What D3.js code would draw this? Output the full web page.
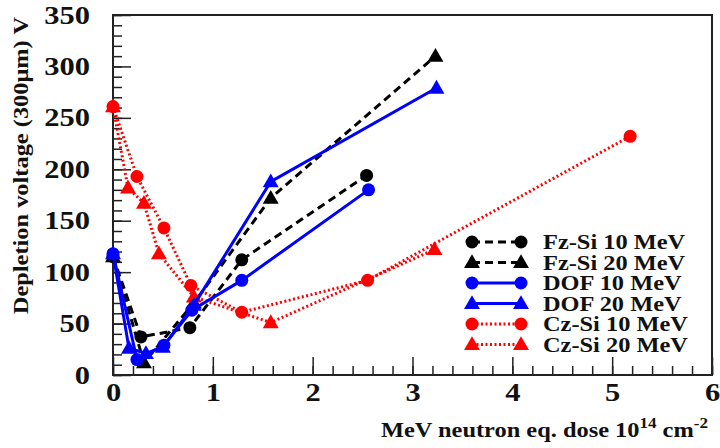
<!DOCTYPE html>
<html>
<head>
<meta charset="utf-8">
<script src="https://cdn.jsdelivr.net/npm/d3@7"></script>
<style>
  body { margin: 0; background: #fff; }
  svg text { font-family: "Liberation Serif", "DejaVu Serif", serif; font-weight: bold; fill: #111; }
</style>
</head>
<body>
<div id="chart"></div>
<script>
// Series data: [dose (1e14 cm^-2), depletion voltage (V)]
const fzSi10 = [[0, 115], [0.28, 37], [0.77, 46], [1.29, 112], [2.54, 194]];
const fzSi20 = [[0, 115], [0.31, 12], [0.81, 70], [1.58, 172], [3.23, 310]];
const dof10  = [[0, 118], [0.24, 15], [0.51, 29], [0.79, 63], [1.29, 92], [2.56, 180]];
const dof20  = [[0, 118], [0.16, 26], [0.33, 21], [0.50, 27], [0.81, 68], [1.58, 188], [3.24, 279]];
const czSi10 = [[0, 261], [0.24, 193], [0.51, 143], [0.78, 87], [1.29, 61], [2.55, 92], [5.18, 232]];
const czSi20 = [[0, 261], [0.15, 182], [0.31, 167], [0.46, 118], [0.81, 76], [1.58, 51], [3.22, 122]];

const seriesNames = ['Fz-Si 10 MeV', 'Fz-Si 20 MeV', 'DOF 10 MeV', 'DOF 20 MeV', 'Cz-Si 10 MeV', 'Cz-Si 20 MeV'];
const xTicks = [0, 1, 2, 3, 4, 5, 6];
const yTicks = [0, 50, 100, 150, 200, 250, 300, 350];

const series = [
  { name: seriesNames[0], data: fzSi10, color: '#000', dash: '8,5', marker: 'circle' },
  { name: seriesNames[1], data: fzSi20, color: '#000', dash: '8,5', marker: 'triangle' },
  { name: seriesNames[4], data: czSi10, color: '#ff0000', dash: '2,2.5', marker: 'circle' },
  { name: seriesNames[5], data: czSi20, color: '#ff0000', dash: '2,2.5', marker: 'triangle' },
  { name: seriesNames[2], data: dof10, color: '#0000ff', dash: null, marker: 'circle' },
  { name: seriesNames[3], data: dof20, color: '#0000ff', dash: null, marker: 'triangle' }
];

const W = 720, H = 448;
const m = { left: 113, top: 15, right: 8, bottom: 73 };
const iw = W - m.left - m.right, ih = H - m.top - m.bottom;
const sx = 1.22; // the reference type is set wide

const svg = d3.select('#chart').append('svg')
    .attr('width', W)
    .attr('height', H);

const x = d3.scaleLinear().domain([0, 6]).range([0, iw]);
const y = d3.scaleLinear().domain([0, 350]).range([ih, 0]);

const g = svg.append('g').attr('transform', `translate(${m.left},${m.top})`);

// minor ticks
g.append('g')
    .attr('transform', `translate(0,${ih})`)
    .call(d3.axisBottom(x).tickValues(d3.range(0, 6.01, 0.2)).tickSizeInner(-9).tickSizeOuter(0).tickFormat(''))
    .call(a => a.select('.domain').remove());
g.append('g')
    .call(d3.axisLeft(y).tickValues(d3.range(0, 351, 10)).tickSizeInner(-9).tickSizeOuter(0).tickFormat(''))
    .call(a => a.select('.domain').remove());

// major ticks with labels
const xAxis = g.append('g')
    .attr('transform', `translate(0,${ih})`)
    .call(d3.axisBottom(x).tickValues(xTicks).tickSizeInner(-18).tickSizeOuter(0).tickPadding(8).tickFormat(d3.format('d')));
xAxis.select('.domain').remove();
xAxis.selectAll('.tick text').attr('transform', `scale(${sx},1)`);

const yAxis = g.append('g')
    .call(d3.axisLeft(y).tickValues(yTicks).tickSizeInner(-18).tickSizeOuter(0).tickPadding(23).tickFormat(d3.format('d')));
yAxis.select('.domain').remove();
yAxis.selectAll('.tick text').attr('x', 0).attr('transform', `translate(-23,0) scale(${sx},1)`);

svg.selectAll('.tick line').attr('stroke', '#222').attr('stroke-width', 1.5);
svg.selectAll('.tick text')
    .attr('font-size', 25)
    .attr('font-family', '"Liberation Serif", serif')
    .attr('font-weight', 'bold')
    .attr('fill', '#111');

// frame
g.append('rect')
    .attr('width', iw)
    .attr('height', ih)
    .attr('fill', 'none')
    .attr('stroke', '#222')
    .attr('stroke-width', 2);

const line = d3.line().x(d => x(d[0])).y(d => y(d[1]));
const tri = d3.symbol().type(d3.symbolTriangle).size(110);

function drawMarker(sel, marker, color, px, py) {
  if (marker === 'circle') {
    sel.append('circle').attr('cx', px).attr('cy', py).attr('r', 6.5).attr('fill', color);
  } else {
    sel.append('path').attr('d', tri).attr('transform', `translate(${px},${py + 1})`).attr('fill', color);
  }
}

series.forEach(s => {
  const sg = g.append('g');
  sg.append('path')
      .datum(s.data)
      .attr('d', line)
      .attr('fill', 'none')
      .attr('stroke', s.color)
      .attr('stroke-width', 3)
      .attr('stroke-dasharray', s.dash);
  s.data.forEach(d => drawMarker(sg, s.marker, s.color, x(d[0]), y(d[1])));
});

// legend
const legendOrder = [0, 1, 4, 5, 2, 3];
const lg = svg.append('g');
legendOrder.forEach((si, i) => {
  const s = series[si];
  const cy = 242 + i * 20.5;
  lg.append('line')
      .attr('x1', 472).attr('x2', 521)
      .attr('y1', cy).attr('y2', cy)
      .attr('stroke', s.color)
      .attr('stroke-width', 3)
      .attr('stroke-dasharray', s.dash);
  drawMarker(lg, s.marker, s.color, 472, cy);
  drawMarker(lg, s.marker, s.color, 521, cy);
  lg.append('text')
      .attr('transform', `translate(543,${cy + 7}) scale(${sx},1)`)
      .attr('font-size', 20)
      .text(s.name);
});

// axis titles
const xt = svg.append('text')
    .attr('transform', `translate(708,437) scale(${sx},1)`)
    .attr('text-anchor', 'end')
    .attr('font-size', 20);
xt.append('tspan').text('MeV neutron eq. dose  10');
xt.append('tspan').attr('dy', -9).attr('font-size', 14).text('14');
xt.append('tspan').attr('dy', 9).text(' cm');
xt.append('tspan').attr('dy', -9).attr('font-size', 14).text('-2');

svg.append('text')
    .attr('transform', `translate(28,17) rotate(-90) scale(${sx},1)`)
    .attr('text-anchor', 'end')
    .attr('font-size', 20)
    .text('Depletion voltage (300\u03bcm) V');
</script>
</body>
</html>
